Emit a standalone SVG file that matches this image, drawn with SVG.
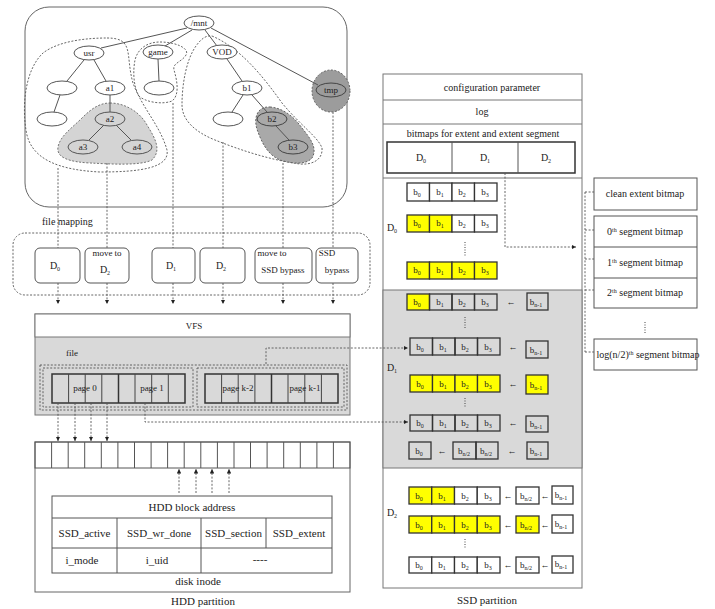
<svg xmlns="http://www.w3.org/2000/svg" width="715" height="609" viewBox="0 0 715 609">
<style>
text{font-family:"Liberation Serif","Times New Roman",serif;fill:#222;text-anchor:middle}
.t9{font-size:9px}.t10{font-size:10px}.t11{font-size:11px}
.ln{stroke:#555;stroke-width:1;fill:none}
.dash{stroke:#555;stroke-width:0.9;fill:none;stroke-dasharray:2,1.6}
.nd{fill:#fff;stroke:#555;stroke-width:1}
.box{fill:#fff;stroke:#555;stroke-width:1}
.cell{stroke:#333;stroke-width:1.3}
.y{fill:#ffff00}.w{fill:#fff}.n{fill:none}
.sub{font-size:6px}
</style>
<defs>
<marker id="ad" viewBox="0 0 6 6" refX="6" refY="3" markerWidth="5" markerHeight="5" orient="auto"><path d="M0,0 L6,3 L0,6 Z" fill="#222"/></marker>
</defs>

<!-- tree panel -->
<g id="tree">
<rect x="25" y="7" width="322" height="200" rx="24" fill="#fff" stroke="#666" stroke-width="1"/>
<path class="dash" d="M107,38 C135,38 125,55 133,83 C142,108 160,125 167,150 C170,168 140,172 100,172 C60,170 30,160 26,130 C22,105 25,70 43,53 C60,40 90,38 107,38 Z"/>
<path d="M110,103 C125,103 140,112 147,125 C155,138 162,150 152,160 C140,166 110,164 90,163 C70,162 56,158 58,147 C60,136 72,128 82,118 C92,108 100,103 110,103 Z" fill="#d4d4d4" stroke="#666" stroke-width="0.9" stroke-dasharray="2,1.6"/>
<path class="dash" d="M160,42 C175,42 190,48 186,55 C182,62 172,63 174,70 C177,80 180,95 172,101 C162,105 145,102 139,96 C133,86 133,70 135,60 C138,48 148,42 160,42 Z"/>
<path class="dash" d="M212,36 C240,48 262,75 282,103 C300,125 318,137 322,148 C323,160 312,165 300,164 C270,160 240,150 215,140 C195,132 182,120 182,105 C182,85 186,60 196,46 C201,39 206,35 212,36 Z"/>
<path d="M270,107 C284,108 295,118 302,128 C310,138 318,148 312,158 C305,166 290,163 280,160 C268,155 262,143 258,132 C253,120 256,106 270,107 Z" fill="#a9a9a9" stroke="#555" stroke-width="0.9" stroke-dasharray="2,1.6"/>
<ellipse cx="331" cy="91" rx="19" ry="21" fill="#9c9c9c" stroke="#555" stroke-width="0.9" stroke-dasharray="2,1.6"/>
<g class="ln">
<line x1="187" y1="28" x2="101" y2="48"/>
<line x1="192" y1="30" x2="165" y2="46"/>
<line x1="205" y1="30" x2="217" y2="46"/>
<line x1="211" y1="28" x2="318" y2="85"/>
<line x1="84" y1="60" x2="67" y2="81"/>
<line x1="94" y1="60" x2="106" y2="81"/>
<line x1="60" y1="95" x2="54" y2="112"/>
<line x1="110" y1="95" x2="110" y2="112"/>
<line x1="104" y1="125" x2="89" y2="140"/>
<line x1="116" y1="125" x2="131" y2="140"/>
<line x1="158" y1="59" x2="159" y2="81"/>
<line x1="227" y1="59" x2="242" y2="81"/>
<line x1="243" y1="95" x2="232" y2="112"/>
<line x1="252" y1="95" x2="267" y2="112"/>
<line x1="276" y1="126" x2="289" y2="140"/>
</g>
<g id="n-mnt"><ellipse class="nd" cx="199" cy="23" rx="15" ry="7"/><text class="t9" x="199" y="26">/mnt</text></g>
<g id="n-usr"><ellipse class="nd" cx="89" cy="53" rx="15" ry="7"/><text class="t9" x="89" y="56">usr</text></g>
<g id="n-game"><ellipse class="nd" cx="158" cy="52" rx="15" ry="7"/><text class="t9" x="158" y="55">game</text></g>
<g id="n-vod"><ellipse class="nd" cx="222" cy="52" rx="15" ry="7"/><text class="t9" x="222" y="55">VOD</text></g>
<g id="n-tmp"><ellipse cx="331" cy="90" rx="15" ry="7" fill="#9c9c9c" stroke="#444"/><text class="t9" x="331" y="93">tmp</text></g>
<g id="n-e1"><ellipse class="nd" cx="62" cy="88" rx="15" ry="7"/></g>
<g id="n-a1"><ellipse class="nd" cx="110" cy="88" rx="15" ry="7"/><text class="t9" x="110" y="91">a1</text></g>
<g id="n-e2"><ellipse class="nd" cx="52" cy="119" rx="15" ry="7"/></g>
<g id="n-a2"><ellipse cx="110" cy="119" rx="15" ry="7" fill="#d4d4d4" stroke="#555"/><text class="t9" x="110" y="122">a2</text></g>
<g id="n-a3"><ellipse cx="83" cy="147" rx="15" ry="7" fill="#d4d4d4" stroke="#555"/><text class="t9" x="83" y="150">a3</text></g>
<g id="n-a4"><ellipse cx="137" cy="147" rx="15" ry="7" fill="#d4d4d4" stroke="#555"/><text class="t9" x="137" y="150">a4</text></g>
<g id="n-g1"><ellipse class="nd" cx="159" cy="88" rx="15" ry="7"/></g>
<g id="n-b1"><ellipse class="nd" cx="247" cy="88" rx="15" ry="7"/><text class="t9" x="247" y="91">b1</text></g>
<g id="n-e3"><ellipse class="nd" cx="228" cy="119" rx="15" ry="7"/></g>
<g id="n-b2"><ellipse cx="272" cy="119" rx="15" ry="7" fill="#a9a9a9" stroke="#444"/><text class="t9" x="272" y="122">b2</text></g>
<g id="n-b3"><ellipse cx="293" cy="147" rx="15" ry="7" fill="#a9a9a9" stroke="#444"/><text class="t9" x="293" y="150">b3</text></g>
</g>

<!-- file mapping -->
<g id="filemapping">
<text class="t10" x="42" y="225" style="text-anchor:start">file mapping</text>
<rect x="13" y="233" width="357" height="62" rx="12" class="dash"/>
</g>

<g id="fm-boxes">
<g id="fm-d0"><rect class="box" x="35" y="248" width="45" height="35" rx="5"/><text class="t10" x="55" y="269">D<tspan class="sub" dy="2">0</tspan></text></g>
<g id="fm-mv"><rect class="box" x="85" y="248" width="44" height="35" rx="5"/><text class="t9" x="107" y="256">move to</text><text class="t10" x="105" y="273">D<tspan class="sub" dy="2">2</tspan></text></g>
<g id="fm-d1"><rect class="box" x="152" y="248" width="43" height="35" rx="5"/><text class="t10" x="171" y="269">D<tspan class="sub" dy="2">1</tspan></text></g>
<g id="fm-d2"><rect class="box" x="200" y="248" width="45" height="35" rx="5"/><text class="t10" x="221" y="269">D<tspan class="sub" dy="2">2</tspan></text></g>
<g id="fm-mvssd"><rect class="box" x="255" y="248" width="57" height="35" rx="5"/><text class="t9" x="272" y="256">move to</text><text class="t9" x="283" y="273">SSD bypass</text></g>
<g id="fm-ssd"><rect class="box" x="316" y="248" width="42" height="35" rx="5"/><text class="t9" x="327" y="256">SSD</text><text class="t9" x="337" y="273">bypass</text></g>
</g>

<!-- VFS -->
<g id="vfs">
<rect x="35" y="314" width="315" height="101" fill="#d9d9d9" stroke="#777"/>
<rect x="35" y="314" width="315" height="23" fill="#fff" stroke="#777"/>
<text class="t9" x="194" y="329">VFS</text>
<text class="t9" x="72" y="356">file</text>
<rect x="40" y="365" width="307" height="45" class="dash"/>
<rect x="43" y="368" width="150" height="39" class="dash"/>
<rect x="197" y="368" width="147" height="39" class="dash"/>
<g id="pages-left">
<rect x="52" y="374" width="133" height="29" fill="none" stroke="#333" stroke-width="1.5"/>
<path d="M68.6,374V403 M85.2,374V403 M101.8,374V403 M135,374V403 M151.7,374V403 M168.3,374V403" stroke="#444" stroke-width="1"/>
<path d="M118.5,374V403" stroke="#333" stroke-width="1.5"/>
<text class="t9" x="85" y="391">page 0</text>
<text class="t9" x="152" y="391">page 1</text>
</g>
<g id="pages-right">
<rect x="205" y="374" width="133" height="29" fill="none" stroke="#333" stroke-width="1.5"/>
<path d="M221.6,374V403 M238.2,374V403 M254.9,374V403 M288,374V403 M304.8,374V403 M321.4,374V403" stroke="#444" stroke-width="1"/>
<path d="M271.5,374V403" stroke="#333" stroke-width="1.5"/>
<text class="t9" x="238" y="391">page k-2</text>
<text class="t9" x="305" y="391">page k-1</text>
</g>
</g>

<!-- HDD -->
<g id="hdd">
<rect x="35" y="442" width="315" height="150" fill="#fff" stroke="#666"/>
<rect x="35" y="442" width="315" height="26" fill="none" stroke="#555"/>
<path d="M51.6,442V468 M68.2,442V468 M84.7,442V468 M101.3,442V468 M117.9,442V468 M134.5,442V468 M151.1,442V468 M167.6,442V468 M184.2,442V468 M200.8,442V468 M217.4,442V468 M234,442V468 M250.5,442V468 M267.1,442V468 M283.7,442V468 M300.3,442V468 M316.9,442V468 M333.4,442V468" stroke="#555" stroke-width="1"/>
<g id="inode">
<rect x="52" y="496" width="280" height="77" fill="#fff" stroke="#555"/>
<path d="M52,518H332 M52,548H332 M117,518V573 M201,518V573 M266,518V548" stroke="#555" stroke-width="1"/>
<text class="t11" x="192" y="511">HDD block address</text>
<text class="t11" x="84.5" y="537">SSD_active</text>
<text class="t11" x="159" y="537">SSD_wr_done</text>
<text class="t11" x="233.5" y="537">SSD_section</text>
<text class="t11" x="299" y="537">SSD_extent</text>
<text class="t11" x="82" y="564">i_mode</text>
<text class="t11" x="157" y="564">i_uid</text>
<text class="t11" x="260" y="563">----</text>
</g>
<text class="t11" x="198" y="585">disk inode</text>
<text class="t11" x="203" y="605">HDD partition</text>
</g>

<!-- SSD -->
<g id="ssd">
<rect x="383" y="74" width="199" height="514" fill="#fff" stroke="#777"/>
<rect x="383" y="290" width="199" height="178" fill="#d9d9d9" stroke="#777"/>
<path d="M383,100H582 M383,124H582 M383,178H582" stroke="#777"/>
<text class="t10" x="492" y="91">configuration parameter</text>
<text class="t10" x="482" y="115">log</text>
<text class="t10" x="483" y="137">bitmaps for extent and extent segment</text>
<rect x="387" y="142" width="188" height="31" fill="#fff" stroke="#333" stroke-width="1.5"/>
<path d="M452,142V173 M518,142V173" stroke="#555"/>
<text class="t10" x="421" y="161">D<tspan class="sub" dy="2">0</tspan></text>
<text class="t10" x="485" y="161">D<tspan class="sub" dy="2">1</tspan></text>
<text class="t10" x="546" y="161">D<tspan class="sub" dy="2">2</tspan></text>

<g id="d0">
<text class="t10" x="392" y="231">D<tspan class="sub" dy="2">0</tspan></text>
<g class="cell">
<rect class="w" x="407" y="183" width="22.5" height="18"/><rect class="w" x="429.5" y="183" width="22.5" height="18"/><rect class="w" x="452" y="183" width="22.5" height="18"/><rect class="w" x="474.5" y="183" width="22.5" height="18"/>
<rect class="y" x="407" y="215" width="22.5" height="17"/><rect class="y" x="429.5" y="215" width="22.5" height="17"/><rect class="w" x="452" y="215" width="22.5" height="17"/><rect class="w" x="474.5" y="215" width="22.5" height="17"/>
<rect class="y" x="407" y="262" width="22.5" height="17"/><rect class="y" x="429.5" y="262" width="22.5" height="17"/><rect class="y" x="452" y="262" width="22.5" height="17"/><rect class="y" x="474.5" y="262" width="22.5" height="17"/>
</g>
<text class="t9" x="417" y="195">b<tspan class="sub" dy="2">0</tspan></text><text class="t9" x="440" y="195">b<tspan class="sub" dy="2">1</tspan></text><text class="t9" x="462" y="195">b<tspan class="sub" dy="2">2</tspan></text><text class="t9" x="485" y="195">b<tspan class="sub" dy="2">3</tspan></text>
<text class="t9" x="417" y="226">b<tspan class="sub" dy="2">0</tspan></text><text class="t9" x="440" y="226">b<tspan class="sub" dy="2">1</tspan></text><text class="t9" x="462" y="226">b<tspan class="sub" dy="2">2</tspan></text><text class="t9" x="485" y="226">b<tspan class="sub" dy="2">3</tspan></text>
<text class="t9" x="417" y="273">b<tspan class="sub" dy="2">0</tspan></text><text class="t9" x="440" y="273">b<tspan class="sub" dy="2">1</tspan></text><text class="t9" x="462" y="273">b<tspan class="sub" dy="2">2</tspan></text><text class="t9" x="485" y="273">b<tspan class="sub" dy="2">3</tspan></text>
<path d="M465,242V256" stroke="#444" stroke-dasharray="1,1.5"/>
</g>

<g id="d1">
<text class="t10" x="392" y="371">D<tspan class="sub" dy="2">1</tspan></text>
<g class="cell">
<rect class="y" x="407" y="294" width="22.5" height="16"/><rect class="n" x="429.5" y="294" width="22.5" height="16"/><rect class="n" x="452" y="294" width="22.5" height="16"/><rect class="n" x="474.5" y="294" width="22.5" height="16"/>
<rect class="n" x="527" y="293" width="21" height="17"/>
<rect class="n" x="410" y="338" width="22.5" height="17"/><rect class="n" x="432.5" y="338" width="22.5" height="17"/><rect class="n" x="455" y="338" width="22.5" height="17"/><rect class="n" x="477.5" y="338" width="22.5" height="17"/>
<rect class="n" x="526" y="341" width="22" height="17"/>
<rect class="y" x="410" y="375" width="22.5" height="17"/><rect class="y" x="432.5" y="375" width="22.5" height="17"/><rect class="y" x="455" y="375" width="22.5" height="17"/><rect class="y" x="477.5" y="375" width="22.5" height="17"/>
<rect class="y" x="526" y="375" width="22" height="19"/>
<rect class="n" x="410" y="415" width="22.5" height="16"/><rect class="n" x="432.5" y="415" width="22.5" height="16"/><rect class="n" x="455" y="415" width="22.5" height="16"/><rect class="n" x="477.5" y="415" width="22.5" height="16"/>
<rect class="n" x="526" y="416" width="22" height="16"/>
<rect class="n" x="409" y="442" width="22" height="17"/>
<rect class="n" x="453" y="442" width="23" height="17"/><rect class="n" x="476" y="442" width="22" height="17"/>
<rect class="n" x="527" y="442" width="21" height="17"/>
</g>
<text class="t9" x="417" y="305">b<tspan class="sub" dy="2">0</tspan></text><text class="t9" x="440" y="305">b<tspan class="sub" dy="2">1</tspan></text><text class="t9" x="462" y="305">b<tspan class="sub" dy="2">2</tspan></text><text class="t9" x="485" y="305">b<tspan class="sub" dy="2">3</tspan></text>
<text class="t9" x="420" y="350">b<tspan class="sub" dy="2">0</tspan></text><text class="t9" x="443" y="350">b<tspan class="sub" dy="2">1</tspan></text><text class="t9" x="465" y="350">b<tspan class="sub" dy="2">2</tspan></text><text class="t9" x="488" y="350">b<tspan class="sub" dy="2">3</tspan></text>
<text class="t9" x="420" y="387">b<tspan class="sub" dy="2">0</tspan></text><text class="t9" x="443" y="387">b<tspan class="sub" dy="2">1</tspan></text><text class="t9" x="465" y="387">b<tspan class="sub" dy="2">2</tspan></text><text class="t9" x="488" y="387">b<tspan class="sub" dy="2">3</tspan></text>
<text class="t9" x="420" y="426">b<tspan class="sub" dy="2">0</tspan></text><text class="t9" x="443" y="426">b<tspan class="sub" dy="2">1</tspan></text><text class="t9" x="465" y="426">b<tspan class="sub" dy="2">2</tspan></text><text class="t9" x="488" y="426">b<tspan class="sub" dy="2">3</tspan></text>
<text class="t9" x="419" y="454">b<tspan class="sub" dy="2">0</tspan></text>
<text class="t9" x="464" y="454">b<tspan class="sub" dy="2">n/2</tspan></text><text class="t9" x="486" y="454">b<tspan class="sub" dy="2">n/2</tspan></text>
<text class="t9" x="536" y="305">b<tspan class="sub" dy="2">n-1</tspan></text>
<text class="t9" x="536" y="353">b<tspan class="sub" dy="2">n-1</tspan></text>
<text class="t9" x="536" y="388">b<tspan class="sub" dy="2">n-1</tspan></text>
<text class="t9" x="536" y="427">b<tspan class="sub" dy="2">n-1</tspan></text>
<text class="t9" x="536" y="454">b<tspan class="sub" dy="2">n-1</tspan></text>
<text class="t9" x="511" y="305">←</text><text class="t9" x="513" y="350">←</text><text class="t9" x="513" y="387">←</text><text class="t9" x="513" y="426">←</text><text class="t9" x="442" y="454">←</text><text class="t9" x="512" y="454">←</text>
<path d="M465,317V328 M465,398V408" stroke="#444" stroke-dasharray="1,1.5"/>
</g>

<g id="d2">
<text class="t10" x="392" y="516">D<tspan class="sub" dy="2">2</tspan></text>
<g class="cell">
<rect class="y" x="409" y="487" width="22.75" height="17"/><rect class="y" x="431.75" y="487" width="22.75" height="17"/><rect class="w" x="454.5" y="487" width="22.75" height="17"/><rect class="w" x="477.25" y="487" width="22.75" height="17"/>
<rect class="w" x="516" y="487" width="23" height="17"/><rect class="w" x="552" y="486" width="21" height="18"/>
<rect class="y" x="409" y="516" width="22.75" height="17"/><rect class="y" x="431.75" y="516" width="22.75" height="17"/><rect class="y" x="454.5" y="516" width="22.75" height="17"/><rect class="y" x="477.25" y="516" width="22.75" height="17"/>
<rect class="y" x="516" y="516" width="23" height="17"/><rect class="w" x="552" y="515" width="21" height="18"/>
<rect class="w" x="409" y="557" width="22.75" height="16"/><rect class="w" x="431.75" y="557" width="22.75" height="16"/><rect class="w" x="454.5" y="557" width="22.75" height="16"/><rect class="w" x="477.25" y="557" width="22.75" height="16"/>
<rect class="w" x="516" y="557" width="23" height="16"/><rect class="w" x="552" y="556" width="21" height="17"/>
</g>
<text class="t9" x="419" y="499">b<tspan class="sub" dy="2">0</tspan></text><text class="t9" x="442" y="499">b<tspan class="sub" dy="2">1</tspan></text><text class="t9" x="465" y="499">b<tspan class="sub" dy="2">2</tspan></text><text class="t9" x="488" y="499">b<tspan class="sub" dy="2">3</tspan></text>
<text class="t9" x="419" y="528">b<tspan class="sub" dy="2">0</tspan></text><text class="t9" x="442" y="528">b<tspan class="sub" dy="2">1</tspan></text><text class="t9" x="465" y="528">b<tspan class="sub" dy="2">2</tspan></text><text class="t9" x="488" y="528">b<tspan class="sub" dy="2">3</tspan></text>
<text class="t9" x="419" y="568">b<tspan class="sub" dy="2">0</tspan></text><text class="t9" x="442" y="568">b<tspan class="sub" dy="2">1</tspan></text><text class="t9" x="465" y="568">b<tspan class="sub" dy="2">2</tspan></text><text class="t9" x="488" y="568">b<tspan class="sub" dy="2">3</tspan></text>
<text class="t9" x="526" y="499">b<tspan class="sub" dy="2">n/2</tspan></text><text class="t9" x="526" y="528">b<tspan class="sub" dy="2">n/2</tspan></text><text class="t9" x="526" y="568">b<tspan class="sub" dy="2">n/2</tspan></text>
<text class="t9" x="561" y="498">b<tspan class="sub" dy="2">n-1</tspan></text><text class="t9" x="561" y="527">b<tspan class="sub" dy="2">n-1</tspan></text><text class="t9" x="561" y="567">b<tspan class="sub" dy="2">n-1</tspan></text>
<text class="t9" x="508" y="499">←</text><text class="t9" x="545" y="499">←</text>
<text class="t9" x="508" y="528">←</text><text class="t9" x="545" y="528">←</text>
<text class="t9" x="508" y="568">←</text><text class="t9" x="545" y="568">←</text>
<path d="M465,539V549" stroke="#444" stroke-dasharray="1,1.5"/>
</g>
<text class="t11" x="487" y="604">SSD partition</text>
</g>

<!-- right bitmaps -->
<g id="bitmaps">
<g id="bm-clean"><rect class="box" x="594" y="178" width="103" height="32"/><text class="t10" x="645" y="197">clean extent bitmap</text></g>
<g id="bm-seg">
<rect class="box" x="594" y="216" width="103" height="92"/>
<path d="M594,247H697 M594,278H697" stroke="#555"/>
<text class="t10" x="645" y="235">0<tspan font-size="6" dy="-3">th</tspan><tspan dy="3"> segment bitmap</tspan></text>
<text class="t10" x="645" y="266">1<tspan font-size="6" dy="-3">th</tspan><tspan dy="3"> segment bitmap</tspan></text>
<text class="t10" x="645" y="296">2<tspan font-size="6" dy="-3">th</tspan><tspan dy="3"> segment bitmap</tspan></text>
</g>
<path d="M645,322V334" stroke="#444" stroke-dasharray="1,1.5"/>
<g id="bm-log"><rect class="box" x="594" y="339" width="103" height="31"/><text class="t10" x="648" y="358">log(n/2)<tspan font-size="6" dy="-3">th</tspan><tspan dy="3"> segment bitmap</tspan></text></g>
</g>

<!-- connectors -->
<g id="connectors">
<path class="dash" d="M58,168 V248 M107,163 V248 M173,103 V248 M223,142 V248 M283,163 V248 M333,112 V248"/>
<g class="dash" marker-end="url(#ad)">
<path d="M58,283 V304"/>
<path d="M107,283 V304"/>
<path d="M173,283 V304"/>
<path d="M223,283 V304"/>
<path d="M283,283 V304"/>
<path d="M333,283 V304"/>
<path d="M58,403 V441"/>
<path d="M75,403 V441"/>
<path d="M91,403 V441"/>
<path d="M107,403 V441"/>
<path d="M179,493 V469"/>
<path d="M196,493 V469"/>
<path d="M212,493 V469"/>
<path d="M229,493 V469"/>
<path d="M266,364 V348 H408"/>
<path d="M145,403 V422 H408"/>
<path d="M505,173 V247 H576"/>
</g>
<path class="dash" d="M585,192 V352 M585,192 H594 M585,230 H594 M585,259 H594 M585,290 H594 M585,352 H594"/>
</g>
</svg>
